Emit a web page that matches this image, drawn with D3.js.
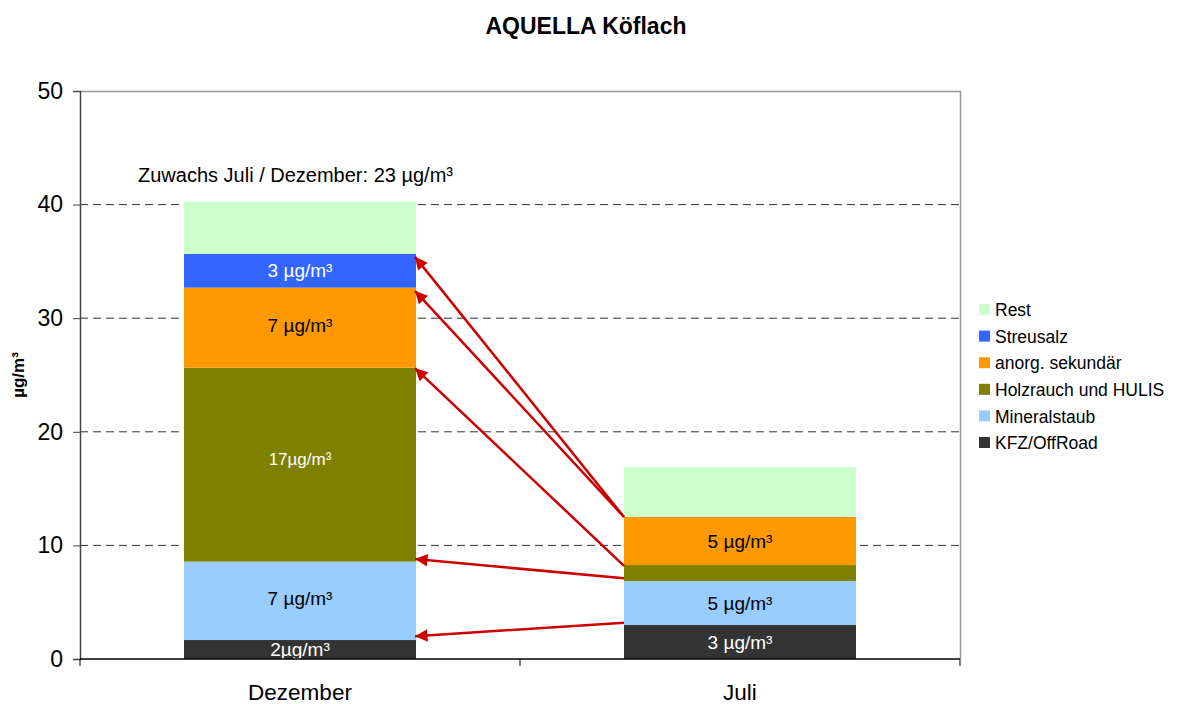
<!DOCTYPE html>
<html>
<head>
<meta charset="utf-8">
<script src="https://cdn.jsdelivr.net/npm/d3@7"></script>
<style>
  body { margin: 0; background: #fff; }
  svg { font-family: "Liberation Sans", Arial, sans-serif; }
</style>
</head>
<body>
<svg id="chart" width="1180" height="704"></svg>
<script>
// ------ data ------
var months = ['Dezember', 'Juli']
var sources = ['KFZ/OffRoad', 'Mineralstaub', 'Holzrauch und HULIS', 'anorg. sekundär', 'Streusalz', 'Rest']
var colors = ['#333333', '#99CCFF', '#808000', '#FF9900', '#3366FF', '#CCFFCC']
var dezember = [1.67, 6.9, 17.07, 7.05, 2.96, 4.61]
var juli = [2.99, 3.88, 1.4, 4.23, 0, 4.4]
var dezLabels = ['2µg/m³', '7 µg/m³', '17µg/m³', '7 µg/m³', '3 µg/m³', '']
var juliLabels = ['3 µg/m³', '5 µg/m³', '', '5 µg/m³', '', '']
var labelDark = [true, false, true, false, true, false]
var yTicks = [0, 10, 20, 30, 40, 50]
// arrows: from Juli value to Dezember value
var arrowFrom = [3.2, 7.1, 8.2, 12.5, 12.5]
var arrowTo = [2.0, 8.8, 25.6, 32.4, 35.4]
var note = 'Zuwachs Juli / Dezember: 23 µg/m³'

// ------ layout ------
var svg = d3.select('#chart')
var plotL = 80, plotR = 960, plotT = 91, plotB = 659

var x = d3.scaleBand().domain(months).range([plotL, plotR]).paddingInner(0).paddingOuter(0)
var barW = 232
var y = d3.scaleLinear().domain([0, 50]).range([plotB, plotT])

svg.append('text')
  .attr('x', 586).attr('y', 34)
  .attr('text-anchor', 'middle')
  .attr('font-weight', 'bold').attr('font-size', 23)
  .text('AQUELLA Köflach')

// grid lines
svg.append('g').selectAll('line')
  .data(yTicks.filter(function (d) { return d > 0 && d < 50 }))
  .enter().append('line')
  .attr('x1', plotL).attr('x2', plotR)
  .attr('y1', function (d) { return y(d) }).attr('y2', function (d) { return y(d) })
  .attr('stroke', '#333').attr('stroke-width', 1)
  .attr('stroke-dasharray', '8,5')

// plot frame top/right
svg.append('path')
  .attr('d', 'M' + plotL + ',' + (plotT + 0.5) + 'H' + (plotR + 0.5) + 'V' + plotB)
  .attr('fill', 'none').attr('stroke', '#999').attr('stroke-width', 1.5)

// ------ stacked bars ------
var table = months.map(function (m, i) {
  var row = { month: m }
  var vals = i === 0 ? dezember : juli
  sources.forEach(function (s, j) { row[s] = vals[j] })
  return row
})
var stack = d3.stack().keys(sources)(table)

stack.forEach(function (layer, j) {
  svg.append('g').selectAll('rect')
    .data(layer)
    .enter().append('rect')
    .attr('x', function (d) { return x(d.data.month) + (x.bandwidth() - barW) / 2 })
    .attr('width', barW)
    .attr('y', function (d) { return y(d[1]) })
    .attr('height', function (d) { return y(d[0]) - y(d[1]) })
    .attr('fill', colors[j])
})

// segment labels (tall segments: label a bit above centre)
stack.forEach(function (layer, j) {
  layer.forEach(function (d, i) {
    var txt = i === 0 ? dezLabels[j] : juliLabels[j]
    if (!txt) return
    var h = y(d[0]) - y(d[1])
    var shift = h > 60 ? -Math.min(6, h * 0.03) : 0
    svg.append('text')
      .attr('x', x(d.data.month) + x.bandwidth() / 2)
      .attr('y', (y(d[0]) + y(d[1])) / 2 + shift)
      .attr('dy', '0.35em')
      .attr('text-anchor', 'middle')
      .attr('font-size', txt === '17µg/m³' ? 17 : 19)
      .attr('fill', labelDark[j] ? '#fff' : '#000')
      .text(txt)
  })
})

// ------ axes ------
var yAxis = d3.axisLeft(y).tickValues(yTicks).tickSize(7).tickPadding(10)
var gy = svg.append('g').attr('transform', 'translate(' + plotL + ',0)').call(yAxis)
gy.select('.domain').attr('stroke', '#444').attr('stroke-width', 1.5)
gy.selectAll('.tick line').attr('stroke', '#444')
gy.selectAll('text').attr('font-size', 23).attr('font-family', '"Liberation Sans", Arial, sans-serif').attr('fill', '#000')

var gx = svg.append('g').attr('transform', 'translate(0,' + plotB + ')')
gx.append('line').attr('x1', plotL).attr('x2', plotR).attr('stroke', '#000').attr('stroke-width', 1.5)
gx.selectAll('.tk').data([plotL, x('Juli'), plotR]).enter().append('line')
  .attr('x1', function (d) { return d }).attr('x2', function (d) { return d })
  .attr('y1', 0).attr('y2', 7).attr('stroke', '#000')
gx.selectAll('.lbl').data(months).enter().append('text')
  .attr('x', function (d) { return x(d) + x.bandwidth() / 2 })
  .attr('y', 41)
  .attr('text-anchor', 'middle').attr('font-size', 22.5)
  .text(function (d) { return d })

svg.append('text')
  .attr('transform', 'translate(24,375) rotate(-90)')
  .attr('text-anchor', 'middle')
  .attr('font-size', 17).attr('font-weight', 'bold')
  .text('µg/m³')

svg.append('text')
  .attr('x', 138).attr('y', 182)
  .attr('font-size', 20)
  .text(note)

// ------ arrows ------
svg.append('defs').append('marker')
  .attr('id', 'head')
  .attr('viewBox', '0 0 10 10')
  .attr('refX', 10).attr('refY', 5)
  .attr('markerWidth', 6).attr('markerHeight', 5)
  .attr('markerUnits', 'strokeWidth')
  .attr('orient', 'auto')
  .append('path').attr('d', 'M0,0L10,5L0,10z').attr('fill', '#CC0000')

var xFrom = x('Juli') + (x.bandwidth() - barW) / 2
var xTo = x('Dezember') + (x.bandwidth() + barW) / 2
svg.append('g').selectAll('line')
  .data(arrowFrom)
  .enter().append('line')
  .attr('x1', xFrom).attr('y1', function (d) { return y(d) })
  .attr('x2', xTo - 1).attr('y2', function (d, i) { return y(arrowTo[i]) })
  .attr('stroke', '#CC0000').attr('stroke-width', 2.5)
  .attr('marker-end', 'url(#head)')

// ------ legend ------
var legend = svg.append('g').attr('transform', 'translate(979,310)')
var items = sources.slice().reverse()
var itemColors = colors.slice().reverse()
items.forEach(function (s, i) {
  var g = legend.append('g').attr('transform', 'translate(0,' + (i * 26.6) + ')')
  g.append('rect').attr('x', 0).attr('y', -6).attr('width', 11).attr('height', 11).attr('fill', itemColors[i])
  g.append('text').attr('x', 16).attr('y', 0).attr('dy', '0.35em').attr('font-size', 17.5).text(s)
})
</script>
</body>
</html>
